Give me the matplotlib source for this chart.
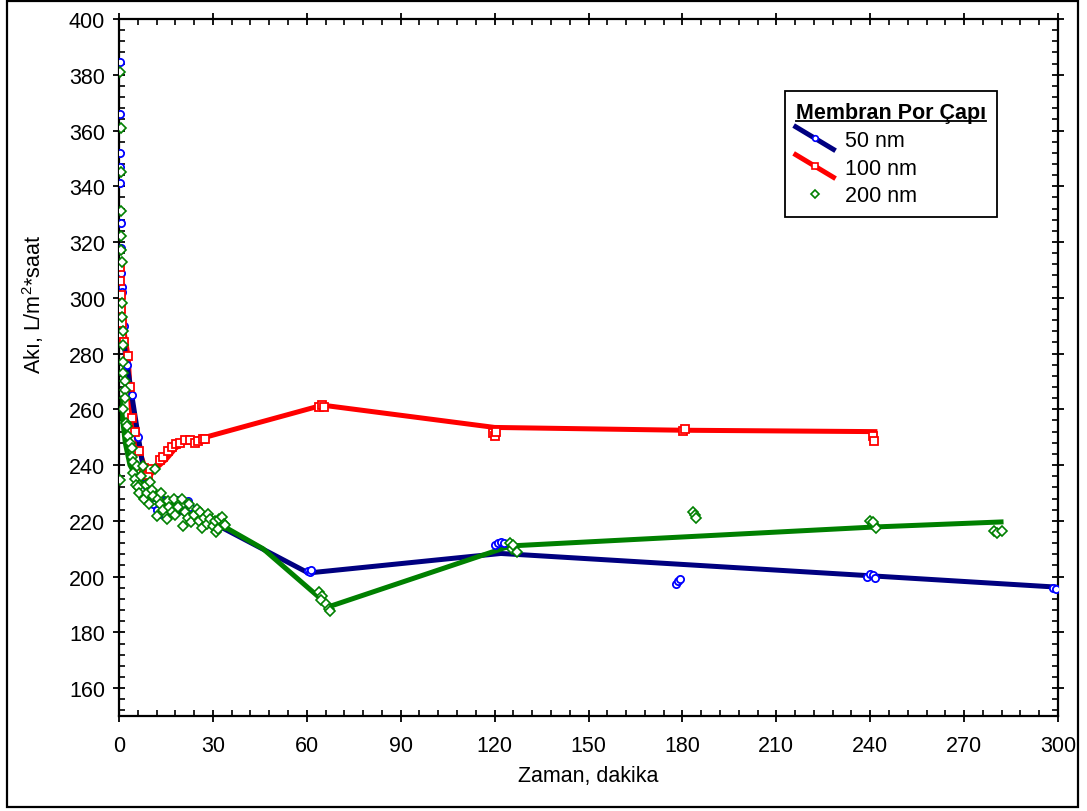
import matplotlib
matplotlib.use("Agg")
import matplotlib.pyplot as plt
import numpy as np
from matplotlib.lines import Line2D
from matplotlib.legend_handler import HandlerLine2D
from matplotlib.patches import Rectangle
from matplotlib.ticker import MultipleLocator

plt.rcParams['font.family'] = ['Liberation Sans', 'DejaVu Sans']
plt.rcParams['mathtext.fontset'] = 'custom'
plt.rcParams['mathtext.rm'] = 'Liberation Sans'

# ---------------- data ----------------
# fitted / mean lines
line50_x = [0.3, 2, 8, 13, 20, 33, 60.5, 122, 240, 300]
line50_y = [300, 280, 237, 226, 223, 217.5, 201.3, 208.3, 200.3, 196.2]

line100_x = [0.3, 1, 2.9, 4, 6, 9.3, 12, 15, 18, 21, 26, 65, 120, 180, 241.5]
line100_y = [312, 292, 279, 259, 247, 235.5, 239, 242, 246, 248.5, 249.5, 261.5, 253.5, 252.5, 252]

line200_x = [0.3, 1, 2, 3.5, 5, 7.7, 10, 13, 18, 24, 33, 46, 67.3, 125, 241.5, 281.8]
line200_y = [264, 258, 248, 240, 237, 234, 231, 229, 226, 223, 218.3, 210, 189.3, 211, 217.8, 219.6]

# measured points, 50 nm
pts50_x = [0.2, 0.3, 0.3, 0.4, 0.4, 0.5, 0.6, 0.7, 0.8, 0.9, 1.5, 2.5, 4, 6, 8,
           9, 10, 11, 11, 12, 13, 13, 14.7, 18.5, 20, 22, 22.7,
           60.5, 61, 61.3, 120, 121, 122, 123, 178, 178.7, 179.3,
           239, 240, 241, 241.5, 298.5, 299.5]
pts50_y = [384.5, 366, 352, 347, 341, 327, 318, 309, 304, 302, 290, 276, 265, 250, 236,
           232, 229, 227, 226, 224, 222.5, 228, 222, 227.5, 226, 227, 225,
           202, 201.5, 202.5, 211.5, 212, 212.3, 212, 197.5, 198.5, 199,
           200, 201, 200.5, 199.5, 196, 195.5]

# measured points, 100 nm
pts100_x = [0.3, 0.4, 0.5, 0.6, 0.8, 1.0, 1.5, 2.9, 3.5, 4.2, 5, 6.5, 8, 9.3, 9.9,
            13.1, 14, 15.7, 16.9, 18.2, 19.5, 21, 22.7, 24.3, 25.2, 26.8, 27.5,
            64, 64.9, 65.5, 119.5, 120, 120.5, 180.3, 180.8, 241, 241.2]
pts100_y = [311, 306, 301, 296, 291, 287, 284, 279, 268, 257, 252, 245, 239, 236.5, 238.6,
            242, 243, 245, 246.5, 247.5, 248, 249, 249, 248, 248.5, 249.5, 249.5,
            261, 261.5, 261, 251.5, 250.5, 252, 252.2, 253, 250.5, 248.6]

# measured points, 200 nm
pts200_x = [0.2, 0.5, 0.5, 0.6, 0.7, 0.7, 0.8, 1.0, 0.3,
            1.1, 1.3, 1.3, 1.2, 1.3, 1.9, 1.9, 1.9, 1.3, 2.2, 2.6, 2.9, 3.5, 4.1, 4.1,
            4.5, 5.7, 7.7, 11.5, 4.5, 5, 5.5, 6, 6.5, 7, 8, 8.5, 9, 9.5, 10, 10.5, 11,
            12, 12.5, 13, 13.5, 14, 15.3, 15.5, 16, 17, 17.5, 18, 19, 20, 20.4, 21,
            22, 22.5, 23, 24, 25, 25.5, 26, 26.5, 27, 28, 28.5, 29, 30, 30.7, 31,
            31.7, 32, 33, 33.5, 34,
            64, 65, 64.5, 66, 67, 67.5, 125, 125.5, 126, 127,
            183.5, 184, 184.5, 240, 241, 241.5, 242, 241, 279.5, 280.5, 282]
pts200_y = [381, 361, 345, 331, 322, 317, 313, 298, 234.5,
            293, 288, 283, 277, 273, 270, 267, 264, 260, 255, 254, 250.5, 248, 246, 243,
            241, 239.5, 239.7, 238.6, 237, 235, 233, 232, 230, 236, 228, 233, 230, 226, 234, 231, 229,
            221.7, 228, 226, 230, 224, 220.7, 227, 225, 223, 228, 222, 225, 227.8, 218.2, 223,
            221, 226, 219.5, 222, 224.3, 220, 223, 217.5, 221, 219, 222.5, 220.7, 218, 220, 216,
            217, 220.5, 221.4, 219, 218.5,
            194.5, 193, 191.5, 190, 188.5, 187.5, 212, 210, 211.5, 209,
            223, 222, 221, 220, 219, 218, 217.5, 219.5, 216.5, 215.5, 216.5]

labels = ["50 nm", "100 nm", "200 nm"]
legend_title = "Membran Por Çapı"
xticks = list(range(0, 301, 30))
yticks = list(range(160, 401, 20))

c_line50, c_pt50 = '#000080', '#0000FF'
c_100 = '#FF0000'
c_200 = '#008000'

FS = 15.5

# ---------------- figure ----------------
fig = plt.figure(figsize=(10.87, 8.12), dpi=100)
ax = fig.add_axes([119/1087, 1-717/812, (1058-119)/1087, (717-20)/812])

lw = 3.6
ax.plot(line100_x, line100_y, color=c_100, lw=lw, zorder=2)
ax.plot(line50_x, line50_y, color=c_line50, lw=lw, zorder=2.05)
ax.plot(line200_x, line200_y, color=c_200, lw=lw, zorder=2.1)

ms = 5.2
ax.plot(pts50_x, pts50_y, ls='none', marker='o', ms=ms, mfc='white', mec=c_pt50, mew=1.3, zorder=3)
ax.plot(pts100_x, pts100_y, ls='none', marker='s', ms=ms, mfc='white', mec=c_100, mew=1.3, zorder=3)
ax.plot(pts200_x, pts200_y, ls='none', marker='D', ms=ms-0.5, mfc='white', mec=c_200, mew=1.2, zorder=3.1)

ax.set_xlim(0, 300)
ax.set_ylim(150, 400)
ax.set_xticks(xticks)
ax.set_yticks(yticks)
ax.xaxis.set_minor_locator(MultipleLocator(6))
ax.yaxis.set_minor_locator(MultipleLocator(4))
ax.tick_params(which='major', direction='inout', length=8, width=1.3,
               top=True, right=True, labelsize=FS)
ax.tick_params(axis='x', which='major', pad=10)
ax.tick_params(axis='y', which='major', pad=6)
ax.tick_params(which='minor', direction='in', length=4, width=1.2, top=True, right=True)
for s in ax.spines.values():
    s.set_linewidth(1.6)

ax.set_xlabel("Zaman, dakika", fontsize=FS)
ax.set_ylabel("Akı, L/m$^{2}$*saat", fontsize=FS)
ax.xaxis.set_label_coords(0.5, (717-766)/697)
ax.yaxis.set_label_coords((46-119)/939, (717-305)/697)


class DiagHandler(HandlerLine2D):
    def create_artists(self, legend, orig_handle, xdescent, ydescent,
                       width, height, fontsize, trans):
        arts = super().create_artists(legend, orig_handle, xdescent, ydescent,
                                      width, height, fontsize, trans)
        for a in arts:
            yd = np.asarray(a.get_ydata(), dtype=float)
            if len(yd) == 3 and orig_handle.get_linestyle() not in ('None', 'none', ''):
                ym = yd[1]
                a.set_ydata([ym + 0.75 * height, ym, ym - 0.75 * height])
        return arts


h50 = Line2D([], [], color=c_line50, lw=lw, marker='o', ms=4, mfc='white', mec=c_pt50, mew=1.2)
h100 = Line2D([], [], color=c_100, lw=lw, marker='s', ms=4, mfc='white', mec=c_100, mew=1.2)
h200 = Line2D([], [], ls='none', marker='D', ms=4, mfc='white', mec=c_200, mew=1.2)
leg = ax.legend([h50, h100, h200], labels, title=legend_title,
                loc='upper left', bbox_to_anchor=((785-119)/939, (717-92)/697),
                borderaxespad=0, fontsize=FS, title_fontsize=FS,
                numpoints=1, handlelength=1.75, handletextpad=0.55,
                labelspacing=0.32, fancybox=False, edgecolor='black',
                framealpha=1, alignment='left', borderpad=0.5,
                handler_map={Line2D: DiagHandler()})
leg.get_frame().set_linewidth(1.3)
leg.get_title().set_fontweight('bold')

# underline legend title
fig.canvas.draw()
bb = leg.get_title().get_window_extent().transformed(fig.transFigure.inverted())
fig.add_artist(Line2D([bb.x0, bb.x1], [bb.y0 + 0.002, bb.y0 + 0.002],
                      transform=fig.transFigure, color='black', lw=1.3))

# outer figure border
fig.add_artist(Rectangle((7/1087, 1-808/812), (1078-7)/1087, (808-2)/812,
                         transform=fig.transFigure, fill=False,
                         edgecolor='black', lw=1.6))

fig.savefig("out.png", dpi=100)
